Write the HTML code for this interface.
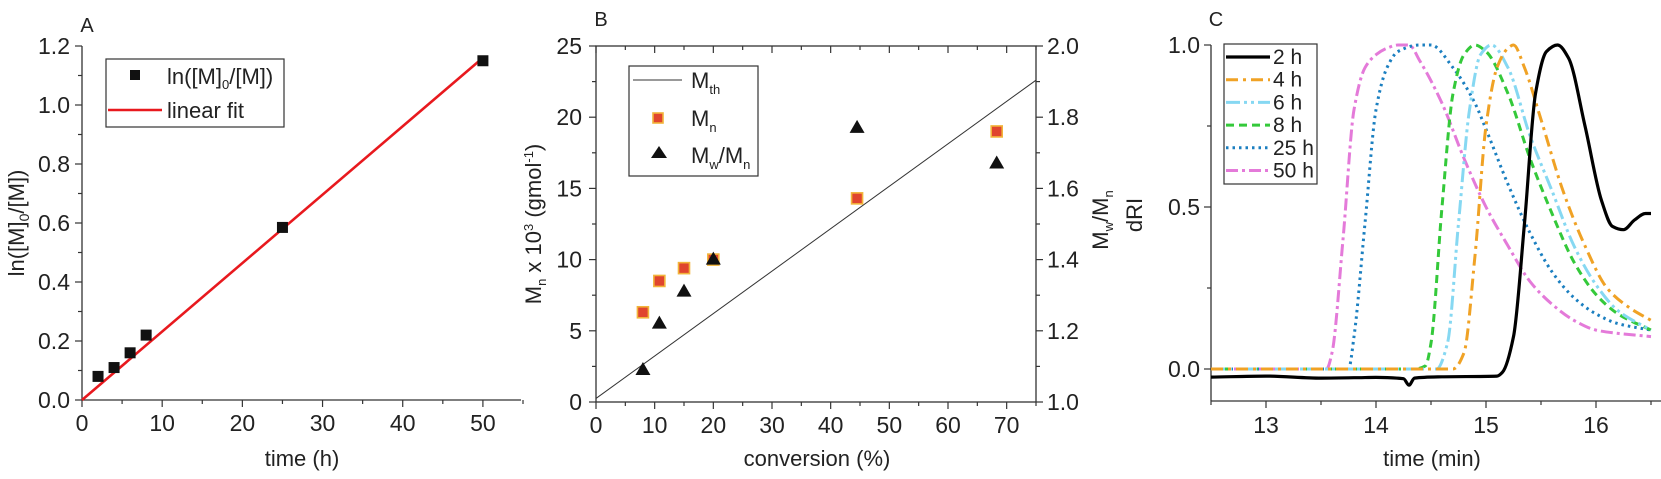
<!DOCTYPE html>
<html><head><meta charset="utf-8"><style>
html,body{margin:0;padding:0;background:#fff;width:1661px;height:479px;overflow:hidden}
svg{display:block;font-family:"Liberation Sans",Arial,sans-serif;fill:#222}
text{fill:#222}
</style></head><body>
<svg id="fig" width="1661" height="479" viewBox="0 0 1661 479" xmlns="http://www.w3.org/2000/svg"></svg>
<script>
// ---- Panel A data ----
const aTime=[2,4,6,8,25,50];
const aLn=[0.08,0.11,0.16,0.22,0.585,1.15];
const aFit=[0,1.16];
const aXTicks=[0,10,20,30,40,50];
const aYTicks=[0.0,0.2,0.4,0.6,0.8,1.0,1.2];
// ---- Panel B data ----
const bConv=[8,10.8,15,20,44.5,68.3];
const bMn=[6.3,8.5,9.4,10,14.3,19];
const bPdi=[1.09,1.22,1.31,1.40,1.77,1.67];
const bMthX=[0,75];
const bMthY=[0.25,22.6];
const bXTicks=[0,10,20,30,40,50,60,70];
const bYTicks=[0,5,10,15,20,25];
const bY2Ticks=[1.0,1.2,1.4,1.6,1.8,2.0];
// ---- Panel C data ----
const cXTicks=[13,14,15,16];
const cYTicks=[0.0,0.5,1.0];
const cLabels=["2 h","4 h","6 h","8 h","25 h","50 h"];
const c2t=[12.5,13.0,13.5,13.8,14.0,14.25,14.3,14.35,14.6,15.1,15.15,15.25,15.35,15.45,15.55,15.65,15.75,15.9,16.05,16.15,16.25,16.35,16.45,16.5];
const c2v=[-0.025,-0.022,-0.028,-0.027,-0.026,-0.03,-0.05,-0.028,-0.024,-0.022,-0.01,0.1,0.45,0.85,0.98,1.0,0.96,0.75,0.52,0.44,0.43,0.46,0.48,0.48];
const c4t=[12.5,14.7,14.8,14.9,15.0,15.1,15.2,15.25,15.35,15.5,15.7,15.9,16.1,16.3,16.5];
const c4v=[0,0,0.05,0.35,0.75,0.93,0.99,1.0,0.93,0.77,0.55,0.38,0.25,0.19,0.15];
const c6t=[12.5,14.55,14.65,14.75,14.85,14.95,15.05,15.2,15.4,15.6,15.8,16.0,16.2,16.5];
const c6v=[0,0,0.08,0.45,0.8,0.97,1.0,0.93,0.72,0.55,0.38,0.26,0.18,0.12];
const c8t=[12.5,14.35,14.45,14.5,14.6,14.7,14.8,14.9,15.0,15.2,15.4,15.6,15.8,16.0,16.2,16.5];
const c8v=[0,0,0.01,0.08,0.5,0.85,0.97,1.0,0.98,0.85,0.65,0.48,0.33,0.23,0.17,0.12];
const c25t=[12.5,13.75,13.8,13.9,14.0,14.1,14.2,14.4,14.5,14.7,14.9,15.0,15.2,15.4,15.6,15.8,16.0,16.2,16.5];
const c25v=[0,0,0.1,0.45,0.8,0.93,0.98,1.0,1.0,0.93,0.82,0.74,0.57,0.42,0.3,0.22,0.17,0.14,0.12];
const c50t=[12.5,13.55,13.6,13.7,13.8,13.9,14.0,14.1,14.2,14.3,14.4,14.6,14.8,15.0,15.2,15.4,15.6,15.8,16.0,16.2,16.5];
const c50v=[0,0,0.05,0.4,0.8,0.93,0.97,0.99,1.0,1.0,0.95,0.82,0.65,0.5,0.38,0.27,0.2,0.15,0.12,0.11,0.1];

const NS="http://www.w3.org/2000/svg";
const svg=document.getElementById('fig');
const TS=23, AS=22;
function mk(tag,attrs,parent){const e=document.createElementNS(NS,tag);for(const k in attrs)e.setAttribute(k,attrs[k]);(parent||svg).appendChild(e);return e;}
function txt(s,x,y,size,anchor,parent){const t=mk('text',{x:x,y:y,'font-size':size,'text-anchor':anchor||'middle'},parent);t.textContent=s;return t;}
function lin(d0,d1,p0,p1){return v=>p0+(v-d0)*(p1-p0)/(d1-d0);}
function monotone(P){const n=P.length,dx=[],s=[],m=[];
 for(let i=0;i<n-1;i++){dx[i]=P[i+1][0]-P[i][0];s[i]=(P[i+1][1]-P[i][1])/dx[i];}
 m[0]=s[0];m[n-1]=s[n-2];
 for(let i=1;i<n-1;i++){if(s[i-1]*s[i]<=0)m[i]=0;else{const w1=2*dx[i]+dx[i-1],w2=dx[i]+2*dx[i-1];m[i]=(w1+w2)/(w1/s[i-1]+w2/s[i]);}}
 let d='M'+P[0][0].toFixed(1)+','+P[0][1].toFixed(1);
 for(let i=0;i<n-1;i++){const h=dx[i]/3;
  d+=` C${(P[i][0]+h).toFixed(1)},${(P[i][1]+m[i]*h).toFixed(1)} ${(P[i+1][0]-h).toFixed(1)},${(P[i+1][1]-m[i+1]*h).toFixed(1)} ${P[i+1][0].toFixed(1)},${P[i+1][1].toFixed(1)}`;}
 return d;}

// ================= PANEL A =================
const gA=mk('g',{});


const axA=lin(0,55,82,523), ayA=lin(0,1.2,400,46);
mk('line',{x1:82,y1:46,x2:82,y2:400,stroke:'#333','stroke-width':1.3},gA);
mk('line',{x1:82,y1:400,x2:521,y2:400,stroke:'#333','stroke-width':1.3},gA);
for(let v=0;v<=55;v+=5){const x=axA(v);mk('line',{x1:x,y1:400,x2:x,y2:v%10?404:407,stroke:'#333','stroke-width':1.2},gA);}
for(let i=0;i<=12;i++){const y=ayA(i/10);mk('line',{x1:82,y1:y,x2:i%2?78:75,y2:y,stroke:'#333','stroke-width':1.2},gA);}
aXTicks.forEach(v=>{const t=txt(String(v),axA(v),431,TS,'middle',gA);});
aYTicks.forEach(v=>{const t=txt(v.toFixed(1),70,ayA(v)+8,TS,'end',gA);});
let t=txt('time (h)',302,466,AS,'middle',gA);
t=mk('text',{x:0,y:0,'font-size':AS,'text-anchor':'middle',transform:'translate(24,223) rotate(-90)'},gA);
t.innerHTML='ln([M]<tspan font-size="14" dy="5">0</tspan><tspan dy="-5">/[M])</tspan>';

t=txt('A',87,32,20,'middle',gA);
const fitA=mk('line',{x1:axA(0),y1:ayA(aFit[0]),x2:axA(50),y2:ayA(aFit[1]),stroke:'#e8191e','stroke-width':2.6},gA);

aTime.forEach((v,i)=>{const r=mk('rect',{x:axA(v)-5.5,y:ayA(aLn[i])-5.5,width:11,height:11,fill:'#111'},gA);
});
const legA=mk('g',{},gA);
mk('rect',{x:106,y:59,width:178,height:68,fill:'#fff',stroke:'#333','stroke-width':1.2},legA);
mk('rect',{x:130,y:70,width:10,height:10,fill:'#111'},legA);
t=mk('text',{x:167,y:84,'font-size':AS},legA);t.innerHTML='ln([M]<tspan font-size="13" dy="5">0</tspan><tspan dy="-5">/[M])</tspan>';

mk('line',{x1:108,y1:110,x2:162,y2:110,stroke:'#e8191e','stroke-width':2.6},legA);
t=txt('linear fit',167,118,AS,'start',legA);

// ================= PANEL B =================
const gB=mk('g',{});


const axB=lin(0,75,596,1036), ayB=lin(0,25,402,46), ay2B=lin(1.0,2.0,402,46);
mk('rect',{x:596,y:46,width:440,height:356,fill:'none',stroke:'#333','stroke-width':1.3},gB);
for(let v=0;v<=75;v+=5){const x=axB(v);const L=v%10?4:7;
mk('line',{x1:x,y1:402,x2:x,y2:402+L,stroke:'#333','stroke-width':1.2},gB);
mk('line',{x1:x,y1:46,x2:x,y2:46+L,stroke:'#333','stroke-width':1.2},gB);}
for(let v=0;v<=25;v+=2.5){const y=ayB(v);mk('line',{x1:596,y1:y,x2:(v%5)?592:589,y2:y,stroke:'#333','stroke-width':1.2},gB);}
for(let i=0;i<=10;i++){const y=ay2B(1+i/10);mk('line',{x1:1036,y1:y,x2:i%2?1040:1043,y2:y,stroke:'#333','stroke-width':1.2},gB);}
bXTicks.forEach(v=>{const t=txt(String(v),axB(v),433,TS,'middle',gB);});
bYTicks.forEach(v=>{const t=txt(String(v),582,ayB(v)+8,TS,'end',gB);});
bY2Ticks.forEach(v=>{const t=txt(v.toFixed(1),1047,ay2B(v)+8,TS,'start',gB);});
t=txt('conversion (%)',817,466,AS,'middle',gB);
t=mk('text',{x:0,y:0,'font-size':AS,'text-anchor':'middle',transform:'translate(541,224) rotate(-90)'},gB);
t.innerHTML='M<tspan font-size="13" dy="5">n</tspan><tspan dy="-5"> x 10</tspan><tspan font-size="13" dy="-8">3</tspan><tspan dy="8"> (gmol</tspan><tspan font-size="13" dy="-8">-1</tspan><tspan dy="8">)</tspan>';

t=mk('text',{x:0,y:0,'font-size':AS,'text-anchor':'middle',transform:'translate(1108,220) rotate(-90)'},gB);
t.innerHTML='M<tspan font-size="13" dy="5">w</tspan><tspan dy="-5">/M</tspan><tspan font-size="13" dy="5">n</tspan>';

t=txt('B',601,26,20,'middle',gB);
const mth=mk('line',{x1:axB(bMthX[0]),y1:ayB(bMthY[0]),x2:axB(bMthX[1]),y2:ayB(bMthY[1]),stroke:'#333','stroke-width':1},gB);

bConv.forEach((v,i)=>{const r=mk('rect',{x:axB(v)-5.5,y:ayB(bMn[i])-5.5,width:11,height:11,fill:'#e0452e',stroke:'#f2b43a','stroke-width':1.6},gB);
});
bConv.forEach((v,i)=>{const x=axB(v),y=ay2B(bPdi[i]);const p=mk('polygon',{points:`${x},${y-8} ${x-7.5},${y+5} ${x+7.5},${y+5}`,fill:'#111'},gB);
});
const legB=mk('g',{},gB);
mk('rect',{x:629,y:66,width:129,height:110,fill:'#fff',stroke:'#333','stroke-width':1.2},legB);
mk('line',{x1:633,y1:80,x2:682,y2:80,stroke:'#333','stroke-width':1},legB);
t=mk('text',{x:691,y:88,'font-size':AS},legB);t.innerHTML='M<tspan font-size="13" dy="6">th</tspan>';

mk('rect',{x:653,y:113,width:10,height:10,fill:'#e0452e',stroke:'#f2b43a','stroke-width':1.6},legB);
t=mk('text',{x:691,y:126,'font-size':AS},legB);t.innerHTML='M<tspan font-size="13" dy="6">n</tspan>';

mk('polygon',{points:'659,146 651,158 667,158',fill:'#111'},legB);
t=mk('text',{x:691,y:163,'font-size':AS},legB);t.innerHTML='M<tspan font-size="13" dy="6">w</tspan><tspan dy="-6">/M</tspan><tspan font-size="13" dy="6">n</tspan>';


// ================= PANEL C =================
const gC=mk('g',{});


const axC=lin(12.5,16.5,1211,1651), ayC=lin(0,1,369,45);
mk('line',{x1:1211,y1:45,x2:1211,y2:401,stroke:'#333','stroke-width':1.3},gC);
mk('line',{x1:1211,y1:401,x2:1661,y2:401,stroke:'#333','stroke-width':1.3},gC);
for(let v=12.5;v<=16.51;v+=0.5){const x=axC(v);mk('line',{x1:x,y1:401,x2:x,y2:Math.abs(v%1)<0.01?408:405,stroke:'#333','stroke-width':1.2},gC);}
for(let v=0;v<=1.001;v+=0.25){const y=ayC(v);mk('line',{x1:1211,y1:y,x2:(Math.round(v*4)%2)?1207:1204,y2:y,stroke:'#333','stroke-width':1.2},gC);}
cXTicks.forEach(v=>{const t=txt(String(v),axC(v),433,TS,'middle',gC);});
cYTicks.forEach(v=>{const t=txt(v.toFixed(1),1200,ayC(v)+8,TS,'end',gC);});
t=txt('time (min)',1432,466,AS,'middle',gC);
t=mk('text',{x:0,y:0,'font-size':AS,'text-anchor':'middle',transform:'translate(1142,215) rotate(-90)'},gC);t.textContent='dRI';

t=txt('C',1216,26,20,'middle',gC);
const series=[
 {t:c2t,v:c2v,c:'#000',d:'',w:3.2},
 {t:c4t,v:c4v,c:'#f0a225',d:'12,5,3,5',w:3},
 {t:c6t,v:c6v,c:'#86d8f2',d:'14,4,3,4,3,4',w:3},
 {t:c8t,v:c8v,c:'#34c93a',d:'8,5',w:3},
 {t:c25t,v:c25v,c:'#1b7fc0',d:'2.5,4',w:3},
 {t:c50t,v:c50v,c:'#e47ad9',d:'12,4,3,4',w:3}];
const clip=mk('clipPath',{id:'cclip'},gC);mk('rect',{x:1211,y:30,width:450,height:371},clip);
const names=['c-line-2h','c-line-4h','c-line-6h','c-line-8h','c-line-25h','c-line-50h'];
for(let k=series.length-1;k>=0;k--){const s=series[k];
 const P=s.t.map((x,i)=>[axC(x),ayC(s.v[i])]);
 const p=mk('path',{d:monotone(P),fill:'none',stroke:s.c,'stroke-width':s.w,'stroke-dasharray':s.d,'stroke-linejoin':'round','clip-path':'url(#cclip)'},gC);
 
 }
const legC=mk('g',{},gC);
mk('rect',{x:1224,y:44,width:93,height:140,fill:'#fff',stroke:'#333','stroke-width':1.2},legC);
series.forEach((s,i)=>{const y=57+i*22.7;
 mk('line',{x1:1226,y1:y,x2:1270,y2:y,stroke:s.c,'stroke-width':s.w,'stroke-dasharray':s.d},legC);
 const tt=txt(cLabels[i],1273,y+7,21,'start',legC);
 
 });
</script>
</body></html>
